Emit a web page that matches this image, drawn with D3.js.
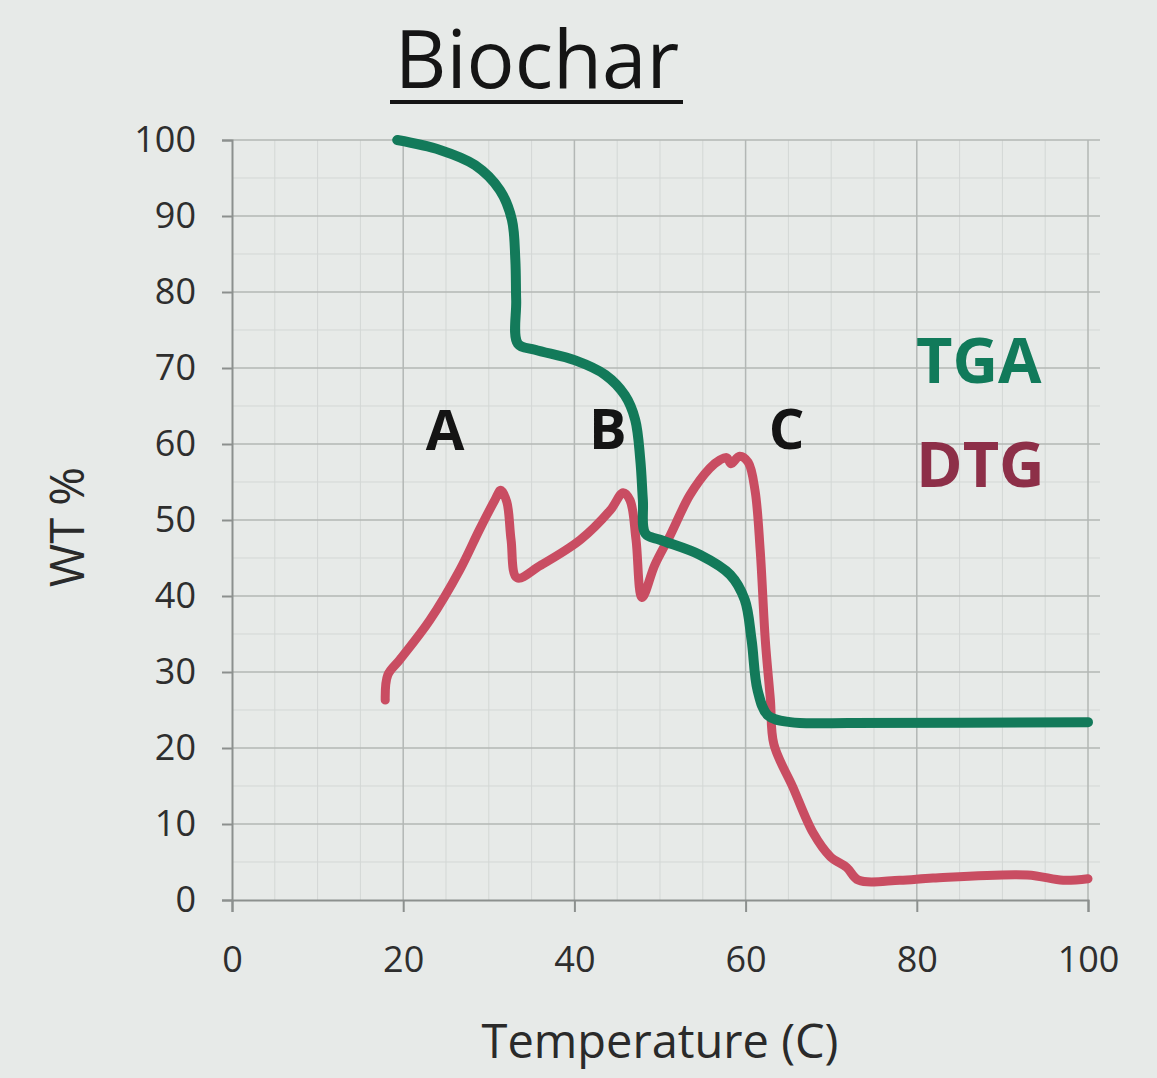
<!DOCTYPE html>
<html><head><meta charset="utf-8">
<script src="https://cdn.jsdelivr.net/npm/d3@7"></script>
<style>body{margin:0;background:#e7eae8;}svg{display:block;}</style>
</head><body>
<svg id="chart" width="1157" height="1078"></svg>
<script>
const xTicks = [0, 20, 40, 60, 80, 100];
const yTicks = [0, 10, 20, 30, 40, 50, 60, 70, 80, 90, 100];
const tgaTemp = [19.3, 24.3, 28.4, 31.3, 32.7, 33.1, 33.2, 33.4, 35.4, 40.1, 43.6, 45.9, 47.1, 47.7, 48.0, 48.3, 50.0, 54.7, 58.2, 59.9, 60.7, 61.4, 62.6, 65.2, 72.2, 100];
const tgaWt   = [100, 98.7, 96.7, 93.4, 89.5, 84.2, 78.9, 73.2, 72.4, 71.0, 69.1, 66.4, 63.2, 57.9, 52.6, 48.2, 47.4, 45.4, 42.8, 39.5, 34.2, 27.6, 24.3, 23.4, 23.3, 23.4];
const dtgTemp = [17.9, 18.2, 19.6, 23.1, 26.6, 28.9, 30.7, 31.4, 32.1, 32.6, 33.3, 36.0, 40.7, 44.2, 45.7, 46.5, 47.2, 47.9, 49.4, 51.2, 53.5, 55.8, 57.0, 57.8, 58.3, 59.3, 60.3, 61.1, 61.7, 62.3, 62.9, 63.3, 65.5, 67.9, 69.9, 71.8, 73.2, 78.0, 81.9, 92.9, 97.1, 100];
const dtgWt   = [26.3, 29.6, 31.6, 36.8, 43.4, 48.7, 52.6, 53.9, 52.4, 47.4, 42.4, 44.0, 47.4, 51.3, 53.6, 52.6, 47.4, 39.8, 44.1, 48.0, 53.3, 56.8, 57.9, 58.2, 57.4, 58.4, 57.6, 53.9, 46.1, 34.2, 26.3, 20.5, 14.9, 8.8, 5.7, 4.3, 2.6, 2.6, 2.9, 3.3, 2.6, 2.8];
const peakLabels = ["A", "B", "C"];
const peakTemp = [24.9, 43.9, 64.8];
const peakWt = [59.2, 59.4, 59.4];
const seriesNames = ["TGA", "DTG"];

const svg = d3.select("#chart");
const x = d3.scaleLinear().domain([0, 100]).range([232, 1088]);
const y = d3.scaleLinear().domain([0, 100]).range([900, 140]);
const font = "'Open Sans', 'Liberation Sans', sans-serif";

// minor grid
const g = svg.append("g");
g.selectAll(".mx").data(d3.range(0, 101, 5).filter(v => v % 20 !== 0)).join("line")
  .attr("x1", d => x(d)).attr("x2", d => x(d)).attr("y1", y(100)).attr("y2", y(0))
  .attr("stroke", "#d3d7d5").attr("stroke-width", 1);
g.selectAll(".my").data(d3.range(0, 101, 5).filter(v => v % 10 !== 0)).join("line")
  .attr("x1", x(0)).attr("x2", 1100).attr("y1", d => y(d)).attr("y2", d => y(d))
  .attr("stroke", "#d3d7d5").attr("stroke-width", 1);
// major grid
g.selectAll(".gx").data(xTicks.slice(1)).join("line")
  .attr("x1", d => x(d)).attr("x2", d => x(d)).attr("y1", y(100)).attr("y2", y(0))
  .attr("stroke", "#b3b7b5").attr("stroke-width", 1.5);
g.selectAll(".gy").data(yTicks.slice(1)).join("line")
  .attr("x1", x(0)).attr("x2", 1100).attr("y1", d => y(d)).attr("y2", d => y(d))
  .attr("stroke", "#b3b7b5").attr("stroke-width", 1.5);

// axes
const xAxis = svg.append("g").attr("transform", `translate(0,${y(0)})`)
  .call(d3.axisBottom(x).tickValues(xTicks).tickSize(12).tickPadding(30));
const yAxis = svg.append("g").attr("transform", `translate(${x(0)},0)`)
  .call(d3.axisLeft(y).tickValues(yTicks).tickSize(10).tickPadding(26));
[xAxis, yAxis].forEach(a => {
  a.select(".domain").attr("stroke", "#8c908e").attr("stroke-width", 2);
  a.selectAll(".tick line").attr("stroke", "#8c908e").attr("stroke-width", 2);
  a.selectAll("text").attr("font-family", font).attr("font-size", 36).attr("fill", "#2e2e2e");
});
xAxis.selectAll("text").attr("dy", "0.32em").attr("transform", "translate(0,18)");

// lines
const line = d3.line().x(d => x(d[0])).y(d => y(d[1])).curve(d3.curveCatmullRom.alpha(0.5));
svg.append("path").datum(dtgTemp.map((t, i) => [t, dtgWt[i]]))
  .attr("d", line).attr("fill", "none").attr("stroke", "#c94d62").attr("stroke-width", 9)
  .attr("stroke-linecap", "round").attr("stroke-linejoin", "round");
svg.append("path").datum(tgaTemp.map((t, i) => [t, tgaWt[i]]))
  .attr("d", line).attr("fill", "none").attr("stroke", "#137a5a").attr("stroke-width", 10)
  .attr("stroke-linecap", "round").attr("stroke-linejoin", "round");

// peak labels
svg.selectAll(".pk").data(peakLabels).join("text")
  .attr("x", (d, i) => x(peakTemp[i])).attr("y", (d, i) => y(peakWt[i]))
  .attr("text-anchor", "middle").attr("font-family", font).attr("font-weight", 700)
  .attr("font-size", 56).attr("fill", "#141414").text(d => d);

// series labels
const seriesColors = ["#117a5a", "#8d2f48"];
svg.selectAll(".sl").data(seriesNames).join("text")
  .attr("x", 916).attr("y", (d, i) => 383 + i * 104)
  .attr("font-family", font).attr("font-weight", 700).attr("font-size", 63)
  .attr("fill", (d, i) => seriesColors[i]).text(d => d);

// title
svg.append("text").attr("x", 537).attr("y", 88).attr("text-anchor", "middle")
  .attr("font-family", font).attr("font-size", 80).attr("fill", "#151515").text("Biochar");
svg.append("line").attr("x1", 390).attr("x2", 683).attr("y1", 102).attr("y2", 102)
  .attr("stroke", "#151515").attr("stroke-width", 4);

// axis titles
svg.append("text").attr("x", 660).attr("y", 1058).attr("text-anchor", "middle")
  .attr("font-family", font).attr("font-size", 47).attr("fill", "#2a2a2a").text("Temperature (C)");
svg.append("text").attr("transform", "translate(84,527) rotate(-90)").attr("text-anchor", "middle")
  .attr("font-family", font).attr("font-size", 47).attr("fill", "#2a2a2a").text("WT %");
</script>
</body></html>
